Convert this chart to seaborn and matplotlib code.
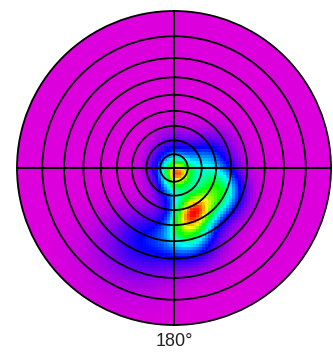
import numpy as np
import matplotlib
matplotlib.use("Agg")
import matplotlib.pyplot as plt
from matplotlib.patches import Circle
import seaborn as sns

# Pole-figure intensity components:
# tilt from the centre (deg), azimuth clockwise from 0° at the top (deg),
# angular spread (deg) and weight
tilt_deg = [5.0, 6.6, 13.1, 16.0, 18.9, 32.0, 36.0, 40.3, 34.3, 39.1, 32.1, 49.9, 46.9, 51.6, 60.3, 31.8]
azimuth_deg = [140, 270, 0, 177, 83, 108, 132, 118, 158, 165.5, 145, 163, 177, 198, 212, 66]
spread_deg = [7, 9, 10, 9, 10, 10, 10, 9, 8, 8, 8, 10, 9, 13, 15, 10]
weight = [1.25, 0.35, 0.25, 0.5, 0.45, 0.55, 0.5, 0.3, 0.75, 0.55, 0.55, 0.45, 0.3, 0.3, 0.12, 0.2]

# Tilt circles (deg) and the labelled directions
ring_tilts = [10, 20, 30, 40, 50, 60, 70, 80, 90]
direction_labels = {"0°": 0, "180°": 180}

sns.set_style("white")
cmap = sns.blend_palette(
    ["#dc00dc", "#0000ff", "#00ffff", "#00ff00", "#ffff00", "#ff0000"], as_cmap=True
)


def unit_vectors(tilt, az):
    return np.stack(
        [np.sin(tilt) * np.sin(az), np.sin(tilt) * np.cos(az), np.cos(tilt)], axis=-1
    )


# Stereographic raster over the unit disc
n = 105
edges = np.linspace(-1, 1, n + 1)
centres = 0.5 * (edges[:-1] + edges[1:])
gx, gy = np.meshgrid(centres, centres)
gr = np.hypot(gx, gy)
g_tilt = 2 * np.arctan(gr)
g_az = np.arctan2(gx, gy)
g_vec = unit_vectors(g_tilt, g_az)

comp_vec = unit_vectors(np.radians(tilt_deg), np.radians(azimuth_deg))
density = np.zeros_like(gx)
for v, s, w in zip(comp_vec, spread_deg, weight):
    ang = np.degrees(np.arccos(np.clip(g_vec @ v, -1, 1)))
    density += w * np.exp(-(ang ** 2) / (2 * s ** 2))
density[gr > 1.02] = np.nan
density /= np.nanmax(density)

fig = plt.figure(figsize=(3.33, 3.52), dpi=100)
ax = fig.add_axes([0, 0, 1, 1])
ax.set_xlim(-174 / 157, 159 / 157)
ax.set_ylim(-184 / 157, 168 / 157)
ax.set_aspect("equal")
ax.axis("off")

img = ax.imshow(
    density, extent=(-1, 1, -1, 1), origin="lower", cmap=cmap,
    vmin=0, vmax=1, interpolation="nearest", zorder=1,
)
clip = Circle((0, 0), 1, transform=ax.transData)
img.set_clip_path(clip)

for t in ring_tilts:
    r = np.tan(np.radians(t) / 2)
    ax.add_patch(Circle((0, 0), r, fill=False, lw=1.3, ec="black", zorder=3))
ax.plot([-1, 1], [0, 0], color="black", lw=1.5, zorder=3)
ax.plot([0, 0], [-1, 1], color="black", lw=1.5, zorder=3)

for text, az in direction_labels.items():
    if az == 180:
        ax.text(0, -1.108, text, ha="center", va="center", fontsize=13,
                family="Liberation Sans", color="#222222")
    else:
        ax.text(0, 1.064, text, ha="center", va="bottom", fontsize=13,
                family="Liberation Sans", color="#222222")

fig.savefig("out.png", dpi=100, facecolor="white")
